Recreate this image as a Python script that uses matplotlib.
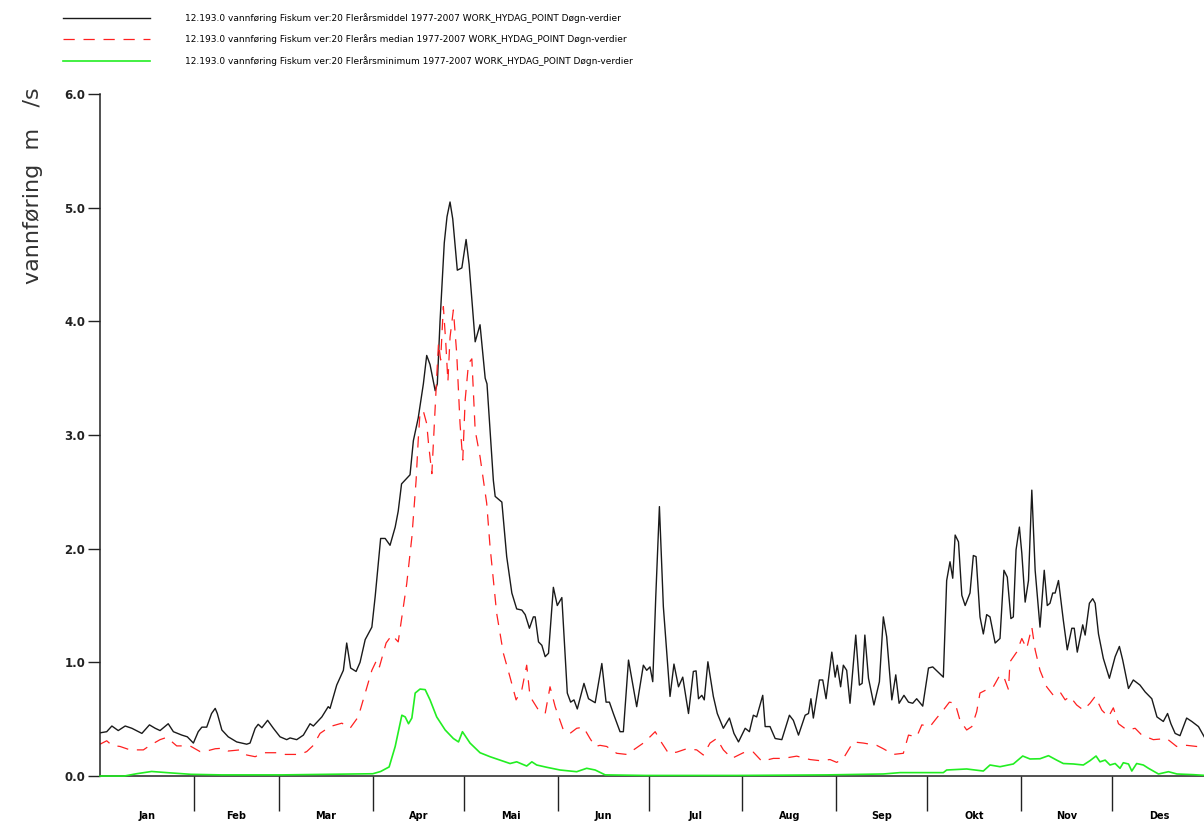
import matplotlib
matplotlib.use("Agg")
import matplotlib.pyplot as plt
import matplotlib.ticker as ticker
import matplotlib.font_manager as fm

# (day of year, m3/s) read from the daily series
middel = [(0, 0.38), (2.2, 0.39), (3.9, 0.44), (6.0, 0.40), (8.3, 0.44), (10.5, 0.42), (13.8, 0.375),
          (16.3, 0.45), (18.2, 0.42), (19.8, 0.40), (22.5, 0.46), (24.2, 0.39), (27.0, 0.36), (28.8, 0.345),
          (30.8, 0.29), (32.4, 0.39), (33.6, 0.43), (35.2, 0.43), (36.8, 0.55), (38.0, 0.595), (38.7, 0.55),
          (40.2, 0.405), (42.3, 0.345), (45.1, 0.30), (48.4, 0.28), (49.5, 0.29), (51.2, 0.42), (52.2, 0.455),
          (53.4, 0.425), (55.3, 0.49), (57.2, 0.42), (59.4, 0.345), (61.6, 0.32), (62.7, 0.335), (64.9, 0.32),
          (67.1, 0.36), (69.3, 0.46), (70.4, 0.44), (73.2, 0.52), (75.3, 0.61), (75.9, 0.595), (78.1, 0.80),
          (80.3, 0.93), (81.4, 1.17), (82.7, 0.95), (84.5, 0.92), (85.8, 1.0), (87.5, 1.20), (89.7, 1.31),
          (90.8, 1.58), (92.6, 2.09), (94.1, 2.09), (95.7, 2.03), (97.4, 2.19), (98.4, 2.33), (99.5, 2.57),
          (102.3, 2.65), (103.4, 2.95), (105.0, 3.15), (106.7, 3.45), (107.8, 3.70), (108.9, 3.62),
          (110.6, 3.39), (111.3, 3.45), (112.2, 4.0), (113.6, 4.69), (114.5, 4.92), (115.5, 5.05),
          (116.4, 4.90), (117.9, 4.45), (119.4, 4.47), (120.8, 4.72), (121.8, 4.50), (123.8, 3.82),
          (125.4, 3.97), (127.1, 3.50), (127.7, 3.45), (129.8, 2.60), (130.4, 2.46), (132.6, 2.41),
          (134.2, 1.93), (135.9, 1.61), (137.5, 1.47), (139.2, 1.46), (140.3, 1.42), (141.7, 1.30),
          (143.0, 1.40), (143.6, 1.40), (144.7, 1.18), (145.8, 1.15), (146.9, 1.05), (148.0, 1.08),
          (149.6, 1.66), (150.9, 1.50), (152.4, 1.57), (154.2, 0.73), (155.3, 0.65), (156.4, 0.67),
          (157.5, 0.59), (159.7, 0.815), (161.2, 0.68), (163.4, 0.645), (165.6, 0.99), (167.0, 0.65),
          (168.1, 0.65), (169.4, 0.55), (171.6, 0.39), (172.7, 0.39), (174.4, 1.02), (177.1, 0.61),
          (179.3, 0.975), (180.4, 0.93), (181.5, 0.96), (182.4, 0.83), (183.4, 1.58), (184.6, 2.37),
          (185.9, 1.49), (188.1, 0.70), (189.4, 0.985), (190.9, 0.785), (192.3, 0.87), (194.2, 0.55),
          (195.8, 0.92), (196.7, 0.925), (197.5, 0.68), (198.6, 0.71), (199.4, 0.67), (200.6, 1.005),
          (202.4, 0.70), (203.7, 0.55), (205.7, 0.42), (207.7, 0.51), (209.2, 0.375), (210.7, 0.30),
          (212.9, 0.42), (214.3, 0.39), (215.6, 0.535), (216.7, 0.52), (218.7, 0.71), (219.5, 0.435),
          (221.1, 0.435), (222.8, 0.33), (225.0, 0.32), (227.5, 0.535), (228.8, 0.49), (230.5, 0.36),
          (232.7, 0.535), (233.8, 0.55), (234.6, 0.68), (235.4, 0.51), (237.4, 0.845), (238.5, 0.845),
          (239.6, 0.68), (241.5, 1.09), (242.6, 0.87), (243.3, 0.975), (244.4, 0.785), (245.3, 0.975),
          (246.4, 0.93), (247.5, 0.64), (249.4, 1.24), (250.6, 0.80), (251.5, 0.815), (252.4, 1.24),
          (253.6, 0.86), (255.4, 0.625), (257.2, 0.83), (258.5, 1.40), (259.6, 1.225), (261.3, 0.67),
          (262.6, 0.89), (263.7, 0.64), (265.3, 0.71), (266.8, 0.65), (268.2, 0.64), (269.5, 0.68),
          (271.5, 0.615), (273.4, 0.95), (274.8, 0.96), (278.3, 0.87), (279.4, 1.72), (280.5, 1.885),
          (281.4, 1.74), (282.2, 2.12), (283.3, 2.06), (284.4, 1.59), (285.5, 1.50), (287.1, 1.61),
          (288.2, 1.94), (289.1, 1.93), (290.4, 1.40), (291.5, 1.25), (292.6, 1.42), (293.7, 1.40),
          (295.4, 1.17), (297.0, 1.21), (298.3, 1.81), (299.4, 1.75), (300.6, 1.385), (301.4, 1.40),
          (302.3, 1.99), (303.4, 2.19), (304.2, 1.96), (305.3, 1.53), (306.4, 1.72), (307.5, 2.515),
          (308.6, 1.81), (310.2, 1.31), (311.6, 1.81), (312.6, 1.50), (313.5, 1.52), (314.4, 1.61),
          (315.2, 1.61), (316.3, 1.72), (317.9, 1.37), (319.2, 1.11), (320.7, 1.30), (321.5, 1.30),
          (322.5, 1.09), (324.3, 1.33), (325.1, 1.24), (326.5, 1.52), (327.6, 1.56), (328.4, 1.52),
          (329.5, 1.25), (331.1, 1.035), (333.1, 0.86), (335.0, 1.05), (336.4, 1.14), (337.5, 1.02),
          (339.4, 0.77), (341.0, 0.845), (343.2, 0.80), (344.9, 0.74), (347.1, 0.68), (348.8, 0.52),
          (350.9, 0.48), (352.3, 0.55), (353.4, 0.46), (354.8, 0.375), (356.4, 0.355), (358.6, 0.51),
          (360.3, 0.48), (362.5, 0.435), (364.4, 0.345)]

median = [(0, 0.28), (2.2, 0.31), (3.9, 0.27), (6.6, 0.26), (9.9, 0.23), (14.3, 0.23), (16.5, 0.27),
          (19.8, 0.32), (22.0, 0.34), (25.3, 0.265), (29.7, 0.265), (33.0, 0.215), (35.2, 0.22),
          (38.0, 0.24), (40.7, 0.245), (42.3, 0.22), (46.2, 0.23), (48.4, 0.185), (51.2, 0.17),
          (53.9, 0.205), (58.3, 0.205), (61.1, 0.19), (66.0, 0.19), (68.2, 0.215), (70.4, 0.27),
          (72.6, 0.375), (75.9, 0.435), (79.8, 0.465), (82.5, 0.42), (85.2, 0.52), (87.5, 0.73),
          (89.7, 0.93), (91.3, 1.02), (92.2, 0.96), (94.4, 1.17), (96.3, 1.24), (98.4, 1.18), (99.6, 1.40),
          (101.2, 1.69), (102.9, 2.10), (104.3, 2.60), (105.0, 2.955), (105.6, 3.20), (106.7, 3.21),
          (107.8, 3.10), (108.4, 2.925), (109.5, 2.66), (110.2, 3.04), (111.1, 3.51), (111.7, 3.81),
          (112.4, 3.66), (113.3, 4.13), (114.1, 3.81), (114.8, 3.47), (115.5, 3.86), (116.6, 4.10),
          (117.7, 3.72), (118.8, 3.10), (119.7, 2.78), (120.5, 3.31), (121.6, 3.63), (122.7, 3.67),
          (123.8, 3.04), (125.4, 2.81), (127.6, 2.40), (128.7, 2.02), (130.9, 1.43), (133.1, 1.08),
          (135.3, 0.87), (137.3, 0.67), (139.2, 0.76), (140.8, 0.975), (141.9, 0.70), (144.7, 0.58),
          (146.9, 0.55), (148.5, 0.785), (150.2, 0.61), (152.9, 0.405), (155.1, 0.375), (157.3, 0.42),
          (159.5, 0.43), (161.7, 0.33), (163.4, 0.26), (165.0, 0.27), (167.2, 0.26), (170.5, 0.20),
          (173.8, 0.19), (176.6, 0.24), (179.3, 0.29), (181.5, 0.345), (183.2, 0.39), (185.4, 0.29),
          (187.6, 0.20), (190.3, 0.21), (193.6, 0.24), (196.9, 0.23), (199.1, 0.185), (201.3, 0.29),
          (203.5, 0.33), (205.7, 0.23), (208.5, 0.155), (212.3, 0.205), (215.6, 0.21), (218.4, 0.13),
          (222.2, 0.155), (225.5, 0.155), (229.9, 0.175), (234.3, 0.145), (237.6, 0.135), (240.9, 0.145),
          (243.1, 0.12), (245.3, 0.155), (248.6, 0.30), (251.9, 0.29), (256.3, 0.27), (258.5, 0.24),
          (261.8, 0.19), (265.1, 0.20), (266.8, 0.36), (269.5, 0.345), (271.2, 0.45), (273.9, 0.435),
          (276.1, 0.51), (278.3, 0.58), (280.3, 0.65), (282.2, 0.64), (283.8, 0.49), (286.0, 0.405),
          (287.7, 0.435), (289.3, 0.565), (290.4, 0.73), (292.6, 0.76), (294.8, 0.785), (297.0, 0.89),
          (298.3, 0.87), (299.8, 0.76), (300.3, 1.005), (302.5, 1.09), (304.2, 1.21), (305.8, 1.12),
          (307.5, 1.31), (308.6, 1.11), (310.2, 0.93), (312.4, 0.785), (314.6, 0.71), (316.8, 0.74),
          (318.5, 0.67), (320.1, 0.70), (322.3, 0.625), (324.5, 0.58), (326.7, 0.64), (328.4, 0.70),
          (330.6, 0.58), (332.8, 0.52), (334.4, 0.60), (336.1, 0.46), (338.9, 0.405), (341.6, 0.42),
          (343.8, 0.36), (347.6, 0.32), (352.0, 0.33), (355.3, 0.26), (358.6, 0.27), (361.9, 0.26),
          (364.4, 0.26)]

minimum = [(0, 0.0), (8, 0.0), (12, 0.02), (17, 0.04), (22, 0.03), (30, 0.015), (40, 0.01), (60, 0.01),
           (75, 0.015), (90, 0.02), (92.6, 0.04), (95.4, 0.08), (97.4, 0.26), (99.6, 0.535), (100.7, 0.52),
           (101.8, 0.46), (102.9, 0.51), (104.0, 0.73), (105.6, 0.765), (107.3, 0.76), (108.9, 0.67),
           (111.1, 0.52), (113.9, 0.405), (116.6, 0.33), (118.3, 0.30), (119.6, 0.39), (122.1, 0.29),
           (125.4, 0.205), (128.7, 0.17), (132.0, 0.14), (135.3, 0.11), (137.5, 0.125), (140.8, 0.088),
           (142.5, 0.125), (144.1, 0.097), (147.4, 0.077), (151.8, 0.053), (157.3, 0.038), (160.6, 0.068),
           (163.4, 0.053), (166.7, 0.01), (180, 0.005), (210, 0.005), (240, 0.01), (258.5, 0.018),
           (264.0, 0.03), (278.3, 0.03), (279.4, 0.053), (286.0, 0.062), (291.5, 0.044), (293.7, 0.097),
           (297.0, 0.082), (301.4, 0.106), (304.5, 0.176), (306.9, 0.15), (310.2, 0.152), (313.0, 0.179),
           (315.7, 0.14), (317.9, 0.11), (321.2, 0.106), (324.5, 0.097), (326.7, 0.135), (328.7, 0.176),
           (330.0, 0.125), (331.7, 0.14), (333.3, 0.097), (335.0, 0.11), (336.6, 0.068), (337.7, 0.117),
           (339.4, 0.106), (340.5, 0.044), (342.1, 0.11), (344.3, 0.097), (346.0, 0.068), (349.3, 0.018),
           (352.6, 0.038), (355.4, 0.018), (360.8, 0.012), (364.4, 0.006)]

month_starts = [0, 31, 59, 90, 120, 151, 181, 212, 243, 273, 304, 334, 365]
month_names = ['Jan', 'Feb', 'Mar', 'Apr', 'Mai', 'Jun', 'Jul', 'Aug', 'Sep', 'Okt', 'Nov', 'Des']

labels = [
    '12.193.0 vannføring Fiskum ver:20 Flerårsmiddel 1977-2007 WORK_HYDAG_POINT Døgn-verdier',
    '12.193.0 vannføring Fiskum ver:20 Flerårs median 1977-2007 WORK_HYDAG_POINT Døgn-verdier',
    '12.193.0 vannføring Fiskum ver:20 Flerårsminimum 1977-2007 WORK_HYDAG_POINT Døgn-verdier',
]

# narrowest sans available for legend / month names
names = {f.name for f in fm.fontManager.ttflist}
narrow = 'DejaVu Sans'
for cand in ['Liberation Sans Narrow', 'DejaVu Sans Condensed']:
    if cand in names:
        narrow = cand
        break


def unzip(pairs):
    return [p[0] for p in pairs], [p[1] for p in pairs]


fig = plt.figure(figsize=(12.04, 8.26), dpi=100)
ax = fig.add_axes([0.0831, 0.0605, 0.9186, 0.8257])

x, y = unzip(middel)
l1, = ax.plot(x, y, color='#1a1a1a', lw=1.0)
x, y = unzip(median)
l2, = ax.plot(x, y, color='#ff2020', lw=0.9, ls=(0, (9, 7)))
x, y = unzip(minimum)
# minimum sits on the x axis most of the year, draw it above the spine
l3, = ax.plot(x, y, color='#22ee22', lw=1.2, zorder=3, clip_on=False)

ax.set_xlim(0, 365)
ax.set_ylim(0, 6)

for s in ['top', 'right']:
    ax.spines[s].set_visible(False)
for s in ['left', 'bottom']:
    ax.spines[s].set_linewidth(1.1)
    ax.spines[s].set_color('#222222')

ax.yaxis.set_major_locator(ticker.MultipleLocator(1.0))
ax.yaxis.set_major_formatter(ticker.FormatStrFormatter('%.1f'))
ax.tick_params(axis='y', direction='out', length=8.5, width=1.0, pad=2, labelsize=8.5, colors='#222222')
for t in ax.get_yticklabels():
    t.set_fontweight('bold')

# month boundaries as long ticks, names centred between them
ax.set_xticks(month_starts[1:-1])
ax.set_xticklabels([])
mids = [(a + b) / 2 for a, b in zip(month_starts[:-1], month_starts[1:])]
ax.set_xticks(mids, minor=True)
ax.set_xticklabels(month_names, minor=True, fontsize=7, fontweight='bold', family=narrow)
ax.tick_params(axis='x', which='major', direction='out', length=25, width=1.0, colors='#222222')
ax.tick_params(axis='x', which='minor', length=0, pad=25)

fig.text(33 / 1204, 1 - 87 / 826, 'vannføring  m   /s', rotation=90, va='top', ha='center',
         fontsize=16, color='#333333')

fs = 8 if narrow != 'DejaVu Sans' else 6.5
fig.legend([l1, l2, l3], labels, loc='upper left', bbox_to_anchor=(63 / 1204, 1 - 13 / 826),
           frameon=False, prop={'family': narrow, 'size': fs}, handlelength=87 / (fs * 1.389),
           handletextpad=35 / (fs * 1.389), labelspacing=1.3, borderpad=0, borderaxespad=0)

fig.savefig('out.png', dpi=100)
